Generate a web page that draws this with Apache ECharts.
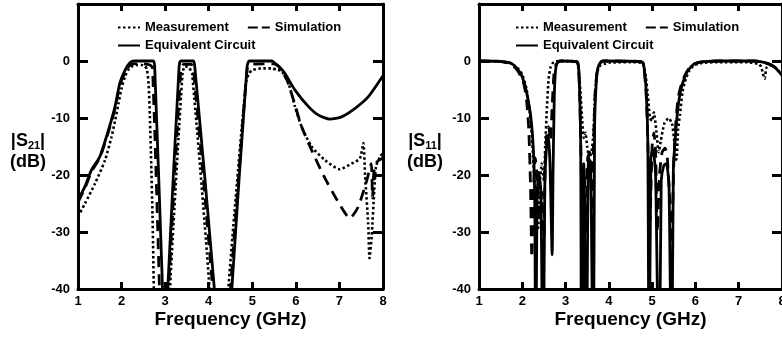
<!DOCTYPE html>
<html>
<head>
<meta charset="utf-8">
<script src="https://cdn.jsdelivr.net/npm/echarts@6/dist/echarts.min.js"></script>
<style>
  html, body { margin: 0; padding: 0; background: #fff; }
  #main { width: 782px; height: 337px; }
</style>
</head>
<body>
<div id="main"></div>
<script>
// axis ticks
const freqTicks = [1, 8, 1];      // min, max, step (GHz)
const dbTicks = [-40, 10, 10];    // min, max, step (dB)

// |S21| curves, [GHz, dB]
const s21Measured = [
  [1.0, -27.3], [1.16, -25], [1.39, -21.5], [1.62, -17.4], [1.77, -13.3], [1.85, -10.5],
  [1.93, -7.4], [2.0, -4.8], [2.08, -2.7], [2.15, -1.6], [2.23, -1.0], [2.35, -0.7],
  [2.46, -0.7], [2.53, -0.9], [2.58, -1.4], [2.62, -4], [2.65, -9.8], [2.68, -18],
  [2.71, -27], [2.74, -40], [2.76, -50],
  [3.08, -50], [3.11, -40], [3.40, -2], [3.46, -0.9], [3.55, -1.2], [3.62, -2.2],
  [4.02, -40], [4.05, -50],
  [4.42, -50], [4.45, -40], [4.85, -4], [4.92, -2.2], [5.0, -1.6], [5.2, -1.3], [5.45, -1.3],
  [5.55, -1.5], [5.68, -1.8], [5.83, -3.9], [5.98, -8.0], [6.13, -11.5], [6.36, -15],
  [6.67, -17.4], [7.01, -19.0], [7.28, -18], [7.47, -17.1], [7.55, -14.4], [7.59, -20.3],
  [7.66, -28.5], [7.69, -34.6], [7.74, -30.8], [7.80, -22.6], [7.84, -18.5], [7.93, -16.8],
  [8.0, -16.2]
];
const s21Simulated = [
  [1.0, -24.8], [1.16, -22.3], [1.31, -19.4], [1.5, -17], [1.7, -12.4], [1.85, -8.3],
  [1.96, -4.3], [2.08, -2], [2.19, -0.8], [2.3, -0.5], [2.5, -0.5], [2.65, -0.7],
  [2.71, -1.2], [2.87, -40], [2.9, -50],
  [3.05, -50], [3.08, -40], [3.36, -1.5], [3.42, -0.6], [3.6, -0.6], [3.65, -1.5],
  [4.09, -40], [4.12, -50],
  [4.47, -50], [4.5, -40], [4.88, -1.5], [4.95, -0.6], [5.5, -0.5], [5.6, -0.9],
  [5.75, -2.7], [5.83, -4], [5.98, -7.7], [6.13, -11.5], [6.36, -15.6], [6.63, -20],
  [6.97, -24.7], [7.24, -27.6], [7.43, -25.6], [7.63, -20.9], [7.73, -18], [7.76, -24],
  [7.79, -19.5], [7.85, -17.8], [8.0, -17]
];
const s21Circuit = [
  [1.0, -24.4], [1.16, -22.0], [1.31, -19.1], [1.5, -16.8], [1.7, -12.1], [1.85, -8.0],
  [1.96, -3.9], [2.08, -1.6], [2.19, -0.3], [2.3, 0], [2.73, 0], [2.76, -1],
  [2.94, -40], [2.97, -50],
  [3.03, -50], [3.06, -40], [3.32, -1], [3.36, 0], [3.65, 0], [3.68, -1],
  [4.13, -40], [4.16, -50],
  [4.5, -50], [4.53, -40], [4.88, -1], [4.93, 0], [5.45, 0], [5.52, -0.4], [5.63, -1.1],
  [5.75, -2.2], [5.98, -5.1], [6.29, -8.0], [6.52, -9.5], [6.78, -10.2], [7.05, -9.8],
  [7.36, -8.3], [7.66, -6.3], [8.0, -2.6]
];

// |S11| curves, [GHz, dB]
const s11Measured = [
  [1.0, 0], [1.5, -0.1], [1.7, -0.3], [1.8, -0.7], [1.9, -1.3], [2.0, -2.4], [2.1, -5],
  [2.2, -11], [2.25, -17], [2.3, -24], [2.34, -30], [2.37, -29], [2.4, -22], [2.45, -18],
  [2.5, -21], [2.53, -15], [2.57, -8], [2.61, -3], [2.65, -1.2], [2.7, -0.4], [2.78, -0.1],
  [2.85, 0], [3.25, -0.2], [3.3, -1.5], [3.34, -5], [3.38, -10], [3.42, -13.5],
  [3.46, -12.6], [3.5, -15], [3.55, -17], [3.6, -16], [3.64, -13], [3.68, -6], [3.73, -2],
  [3.8, -0.8], [3.9, -0.5], [4.0, -0.3], [4.5, -0.2], [4.75, -0.3], [4.8, -0.8],
  [4.85, -2.5], [4.9, -6], [4.95, -10], [5.0, -10.5], [5.04, -9], [5.1, -12.5], [5.15, -16],
  [5.2, -14], [5.28, -11], [5.38, -10], [5.46, -11], [5.51, -14], [5.56, -17.3], [5.6, -12],
  [5.64, -9.6], [5.7, -5.5], [5.75, -3.8], [5.85, -1.8], [5.95, -0.9], [6.1, -0.4],
  [6.5, -0.2], [7.2, -0.2], [7.45, -0.5], [7.52, -1], [7.56, -2.3], [7.6, -3.1],
  [7.64, -1.2], [7.72, -0.8], [7.8, -0.9], [7.9, -1.6], [8.0, -2.5]
];
const s11Simulated = [
  [1.0, 0], [1.5, -0.1], [1.7, -0.4], [1.8, -0.9], [1.9, -1.8], [2.0, -3.2], [2.05, -4.5],
  [2.1, -7], [2.15, -12], [2.19, -22], [2.22, -34.5], [2.26, -22], [2.3, -17], [2.35, -21],
  [2.4, -28], [2.45, -23], [2.49, -34], [2.53, -18], [2.57, -12.5], [2.61, -11.5],
  [2.65, -14], [2.69, -8], [2.73, -2.5], [2.78, -0.6], [2.85, -0.1], [2.9, 0],
  [3.26, -0.1], [3.3, -1.2], [3.33, -7], [3.36, -18], [3.39, -32], [3.43, -19], [3.47, -30],
  [3.51, -17], [3.56, -16], [3.61, -28], [3.645, -15], [3.68, -6], [3.73, -1.8], [3.8, -0.4],
  [3.87, 0], [4.75, -0.1], [4.8, -0.6], [4.86, -5.5], [4.9, -14], [4.95, -28], [5.0, -15],
  [5.04, -12.6], [5.08, -16], [5.12, -30], [5.17, -20], [5.23, -16], [5.3, -15.3],
  [5.35, -17], [5.41, -25], [5.45, -32], [5.5, -18], [5.55, -10.5], [5.6, -6.5],
  [5.66, -4.5], [5.75, -2.6], [5.85, -1.3], [5.95, -0.6], [6.1, -0.2], [6.5, 0], [7.4, 0],
  [7.6, -0.3], [7.8, -0.9], [8.0, -2]
];
const s11Circuit = [
  [1.0, 0], [1.5, -0.05], [1.7, -0.3], [1.8, -0.7], [1.9, -1.5], [2.0, -2.8], [2.1, -5.5],
  [2.2, -10], [2.26, -16], [2.29, -26], [2.31, -60], [2.34, -24], [2.38, -19.5], [2.43, -23],
  [2.48, -60], [2.52, -22], [2.56, -15], [2.6, -13], [2.64, -18], [2.69, -34], [2.71, -20],
  [2.74, -6], [2.77, -1.5], [2.81, -0.3], [2.87, 0], [3.26, -0.1], [3.3, -1], [3.33, -6.7],
  [3.35, -15], [3.37, -60], [3.42, -18], [3.48, -60], [3.53, -17], [3.58, -18], [3.64, -60],
  [3.67, -12], [3.7, -5], [3.74, -1.4], [3.8, -0.3], [3.86, 0], [4.75, -0.1], [4.8, -0.5],
  [4.86, -5], [4.9, -14], [4.93, -60], [4.97, -17], [5.02, -15.5], [5.08, -20], [5.16, -60],
  [5.21, -21], [5.27, -18.3], [5.33, -18], [5.39, -22], [5.45, -60], [5.49, -19],
  [5.55, -12], [5.6, -8], [5.65, -5.5], [5.7, -4], [5.8, -2], [5.9, -1], [6.0, -0.4],
  [6.2, -0.1], [6.6, 0], [7.3, 0], [7.5, -0.1], [7.7, -0.5], [7.85, -1.2], [8.0, -2.5]
];

const FONT = '"Liberation Sans", Arial, Helvetica, sans-serif';
const chart = echarts.init(document.getElementById('main'), null, { renderer: 'canvas' });

const frame = { show: true, onZero: false, lineStyle: { color: '#000', width: 3 } };
const tick = (len) => ({ show: true, inside: true, length: len, lineStyle: { color: '#000', width: 3 } });
const tickText = { show: true, color: '#000', fontFamily: FONT, fontWeight: 'bold', fontSize: 13 };

function xAxes(grid) {
  const base = { type: 'value', gridIndex: grid, min: freqTicks[0], max: freqTicks[1], interval: freqTicks[2],
    axisLine: frame, axisTick: tick(7), splitLine: { show: false } };
  return [
    Object.assign({}, base, {
      position: 'bottom',
      axisLabel: Object.assign({ margin: 6 }, tickText),
      name: 'Frequency (GHz)', nameLocation: 'middle', nameGap: 21, nameMoveOverlap: false,
      nameTextStyle: { color: '#000', fontFamily: FONT, fontWeight: 'bold', fontSize: 19 }
    }),
    Object.assign({}, base, { position: 'top', axisLabel: { show: false } })
  ];
}

function yAxes(grid, sub, gap) {
  const base = { type: 'value', gridIndex: grid, min: dbTicks[0], max: dbTicks[1], interval: dbTicks[2],
    axisLine: frame, axisTick: tick(10), splitLine: { show: false } };
  return [
    Object.assign({}, base, {
      position: 'left',
      axisLabel: Object.assign({ margin: 8, formatter: v => (v > 0 ? '' : String(v)) }, tickText),
      name: '|S{sub|' + sub + '}|\n(dB)', nameLocation: 'middle', nameRotate: 0, nameGap: gap,
      nameMoveOverlap: false,
      nameTextStyle: {
        color: '#000', fontFamily: FONT, fontWeight: 'bold', fontSize: 18, lineHeight: 21,
        align: 'center', verticalAlign: 'middle', padding: [10, 0, 0, 0],
        rich: { sub: { color: '#000', fontFamily: FONT, fontWeight: 'bold', fontSize: 11,
          lineHeight: 10, verticalAlign: 'bottom' } }
      }
    }),
    Object.assign({}, base, { position: 'right', axisLabel: { show: false } })
  ];
}

const styles = {
  'Measurement': { type: [2.5, 2.5], width: 2.6 },
  'Simulation': { type: [11, 7], width: 2.8 },
  'Equivalent Circuit': { type: 'solid', width: 2.8 }
};

function curve(name, data, grid) {
  return {
    name, type: 'line', data, xAxisIndex: grid * 2, yAxisIndex: grid * 2,
    symbol: 'none', clip: true, smooth: 0.2,
    itemStyle: { color: '#000' },
    lineStyle: Object.assign({ color: '#000', cap: 'butt' }, styles[name])
  };
}

function legends(left) {
  const common = { left, itemWidth: 22, itemHeight: 14, itemGap: 18, selectedMode: false,
    itemStyle: { opacity: 0 },
    textStyle: { color: '#000', fontFamily: FONT, fontWeight: 'bold', fontSize: 13 } };
  return [
    Object.assign({ top: 16, data: ['Measurement',
      { name: 'Simulation', lineStyle: { type: [10, 4] } }] }, common),
    Object.assign({ top: 34, data: ['Equivalent Circuit'] }, common)
  ];
}

const option = {
  animation: false,
  backgroundColor: '#fff',
  grid: [
    { left: 78, top: 4, width: 305, height: 285, outerBoundsMode: 'none' },
    { left: 479, top: 4, width: 303, height: 285, outerBoundsMode: 'none' }
  ],
  legend: legends(112).concat(legends(510)),
  xAxis: xAxes(0).concat(xAxes(1)),
  yAxis: yAxes(0, '21', 50).concat(yAxes(1, '11', 54)),
  series: [
    curve('Measurement', s21Measured, 0),
    curve('Simulation', s21Simulated, 0),
    curve('Equivalent Circuit', s21Circuit, 0),
    curve('Measurement', s11Measured, 1),
    curve('Simulation', s11Simulated, 1),
    curve('Equivalent Circuit', s11Circuit, 1)
  ]
};

chart.setOption(option);
</script>
</body>
</html>
